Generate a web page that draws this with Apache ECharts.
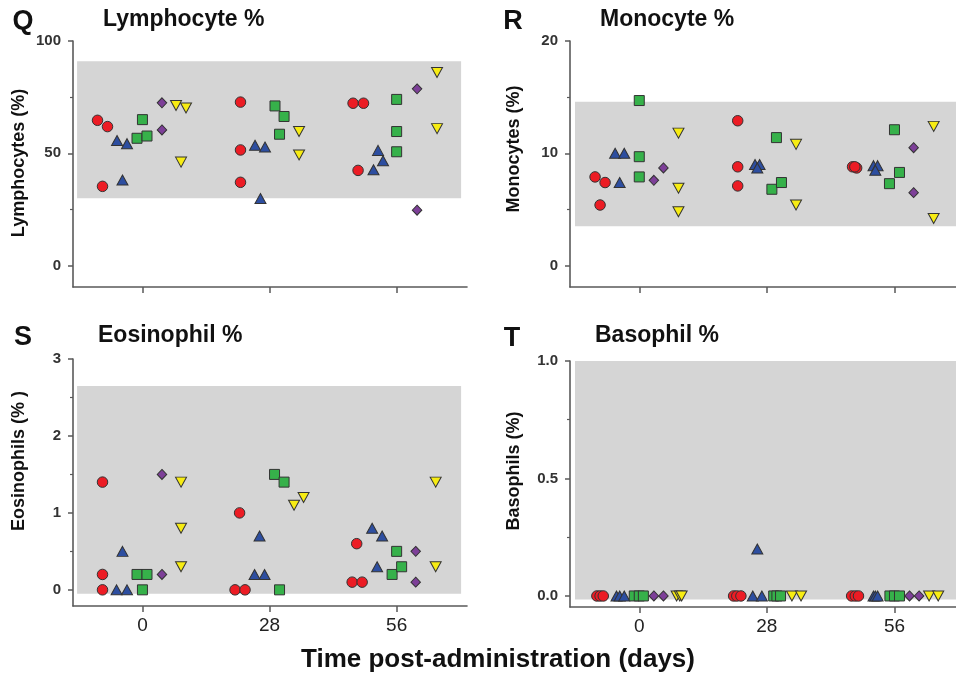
<!DOCTYPE html>
<html><head><meta charset="utf-8">
<script src="https://cdn.jsdelivr.net/npm/echarts@6/dist/echarts.min.js"></script>
<style>html,body{margin:0;padding:0;background:#fff}#c{width:956px;height:681px}</style>
</head><body><div id="c"></div>
<script>
// ---------- DATA ----------
const dayTicks = [0, 28, 56];
const groupNames = ['Group 1', 'Group 2', 'Group 3', 'Group 4', 'Group 5'];

// Lymphocyte % : [day (jittered), value]
const lymphRed    = [[-9.9,64.7],[-7.7,61.9],[-8.8,35.3],[21.6,72.8],[21.6,51.5],[21.6,37.1],[46.4,72.3],[48.7,72.3],[47.5,42.4]];
const lymphBlue   = [[-5.6,55.7],[-3.4,54.3],[-4.4,38.1],[24.8,53.6],[27.0,52.8],[26.0,29.9],[50.9,42.7],[51.9,51.3],[53.0,46.7]];
const lymphGreen  = [[0,65.0],[-1.2,56.7],[1.0,57.7],[29.2,71.1],[31.2,66.4],[30.2,58.5],[56,74.0],[56,59.7],[56,50.7]];
const lymphPurple = [[4.3,72.5],[4.3,60.4],[60.5,78.7],[60.5,24.7]];
const lymphYellow = [[7.4,71.3],[9.6,70.2],[8.5,46.1],[34.5,59.7],[34.5,49.3],[64.9,86.0],[64.9,61.0]];
const lymphRange  = [30, 91];
const lymphTicks  = [0, 50, 100];

// Monocyte %
const monoRed    = [[-9.7,7.9],[-7.5,7.4],[-8.6,5.4],[21.6,12.9],[21.6,8.8],[21.6,7.1],[46.8,8.8],[47.7,8.7],[47.3,8.8]];
const monoBlue   = [[-5.3,10.0],[-3.3,10.0],[-4.3,7.4],[25.4,9.0],[26.4,9.0],[25.9,8.7],[51.4,8.9],[52.3,8.9],[51.8,8.5]];
const monoGreen  = [[0,14.7],[0,9.7],[0,7.9],[30.1,11.4],[29.1,6.8],[31.2,7.4],[56,12.1],[54.9,7.3],[57.1,8.3]];
const monoPurple = [[3.2,7.6],[5.3,8.7],[60.2,10.5],[60.2,6.5]];
const monoYellow = [[8.6,11.8],[8.6,6.9],[8.6,4.8],[34.4,10.8],[34.4,5.4],[64.6,12.4],[64.6,4.2]];
const monoRange  = [3.5, 14.6];
const monoTicks  = [0, 10, 20];

// Eosinophil %
const eosRed    = [[-8.8,1.4],[-8.8,0.2],[-8.8,0],[21.4,1.0],[20.4,0],[22.6,0],[47.2,0.6],[46.2,0.1],[48.4,0.1]];
const eosBlue   = [[-4.4,0.5],[-5.7,0],[-3.4,0],[25.8,0.7],[24.7,0.2],[26.9,0.2],[50.6,0.8],[52.8,0.7],[51.7,0.3]];
const eosGreen  = [[-1.2,0.2],[1.0,0.2],[0,0],[29.1,1.5],[31.2,1.4],[30.2,0],[56,0.5],[55,0.2],[57.1,0.3]];
const eosPurple = [[4.3,1.5],[4.3,0.2],[60.2,0.5],[60.2,0.1]];
const eosYellow = [[8.5,1.4],[8.5,0.8],[8.5,0.3],[33.4,1.1],[35.5,1.2],[64.6,1.4],[64.6,0.3]];
const eosRange  = [-0.05, 2.65];
const eosTicks  = [0, 1, 2, 3];

// Basophil %
const basoRed    = [[-9.3,0],[-8.6,0],[-7.9,0],[20.7,0],[21.4,0],[22.3,0],[46.6,0],[47.4,0],[48.1,0]];
const basoBlue   = [[-5.0,0],[-4.3,0],[-3.3,0],[24.9,0],[25.9,0.2],[26.9,0],[51.4,0],[51.8,0],[52.3,0]];
const basoGreen  = [[-1.1,0],[0,0],[0.9,0],[29.5,0],[30.2,0],[31.0,0],[55,0],[56,0],[57.1,0]];
const basoPurple = [[3.2,0],[5.3,0],[59.3,0],[61.4,0]];
const basoYellow = [[8.2,0],[8.9,0],[9.3,0],[33.5,0],[35.5,0],[63.6,0],[65.6,0]];
const basoRange  = [-0.015, 1.0];
const basoTicks  = [0, 0.5, 1.0];

// ---------- STYLE ----------
const FONT = '"Liberation Sans", Arial, sans-serif';
const groupStyles = [
  {symbol:'circle',   size:10.5,    rotate:0,   color:'#ec1c24'},
  {symbol:'triangle', size:[11,10], rotate:0,   color:'#2d4ea0'},
  {symbol:'rect',     size:10,      rotate:0,   color:'#36b14a'},
  {symbol:'diamond',  size:[9.5,10],rotate:0,   color:'#7d3f98'},
  {symbol:'triangle', size:[11,10], rotate:180, color:'#f7ec13'}
];

const panels = [
  {letter:'Q', title:'Lymphocyte %', yName:'Lymphocytes (%)', groups:[lymphRed,lymphBlue,lymphGreen,lymphPurple,lymphYellow],
   range:lymphRange, ticks:lymphTicks, minor:[25,75], yMin:-9.5, yMax:100, xMin:-15.3, xMax:71.5, bandX:[-14.4,70.2],
   grid:{left:73, top:41, width:394, height:246}, xLabels:false, fmt:v=>String(v),
   letterPos:[23,22], titlePos:[103,20], yNamePos:[19,163]},
  {letter:'R', title:'Monocyte %', yName:'Monocytes (%)', groups:[monoRed,monoBlue,monoGreen,monoPurple,monoYellow],
   range:monoRange, ticks:monoTicks, minor:[5,15], yMin:-1.9, yMax:20, xMin:-15.2, xMax:69.5, bandX:[-14.1,69.5],
   grid:{left:570, top:41, width:386, height:246}, xLabels:false, fmt:v=>String(v),
   letterPos:[513,22], titlePos:[600,20], yNamePos:[514,149]},
  {letter:'S', title:'Eosinophil %', yName:'Eosinophils (% )', groups:[eosRed,eosBlue,eosGreen,eosPurple,eosYellow],
   range:eosRange, ticks:eosTicks, minor:[0.5,1.5,2.5], yMin:-0.21, yMax:3, xMin:-15.3, xMax:71.5, bandX:[-14.4,70.2],
   grid:{left:73, top:359, width:394, height:247}, xLabels:true, fmt:v=>String(v),
   letterPos:[23,338], titlePos:[98,336], yNamePos:[19,461]},
  {letter:'T', title:'Basophil %', yName:'Basophils (%)', groups:[basoRed,basoBlue,basoGreen,basoPurple,basoYellow],
   range:basoRange, ticks:basoTicks, minor:[0.25,0.75], yMin:-0.047, yMax:1, xMin:-15.2, xMax:69.5, bandX:[-14.1,69.5],
   grid:{left:570, top:361, width:386, height:246}, xLabels:true, fmt:v=>v.toFixed(1),
   letterPos:[512,339], titlePos:[595,336], yNamePos:[514,471]}
];

const grids = [], xAxes = [], yAxes = [], series = [], graphics = [];
const axisColor = '#5a5a5a';

panels.forEach((p, i) => {
  grids.push(Object.assign({containLabel:false}, p.grid));
  xAxes.push({
    type:'value', gridIndex:i, min:p.xMin, max:p.xMax, position:'bottom',
    axisLine:{show:true, onZero:false, lineStyle:{color:axisColor, width:1.6}},
    axisTick:{show:true, inside:false, length:6, customValues:dayTicks, lineStyle:{color:axisColor, width:1.5}},
    axisLabel:{show:p.xLabels, customValues:dayTicks, margin:10, fontFamily:FONT, fontSize:19, color:'#222'},
    splitLine:{show:false}
  });
  // major y axis
  yAxes.push({
    type:'value', gridIndex:i, min:p.yMin, max:p.yMax, position:'left',
    axisLine:{show:true, onZero:false, lineStyle:{color:axisColor, width:1.6}},
    axisTick:{show:true, inside:false, length:5, customValues:p.ticks, lineStyle:{color:axisColor, width:1.5}},
    axisLabel:{show:true, customValues:p.ticks, margin:12, fontFamily:FONT, fontSize:15, fontWeight:'bold', color:'#333', formatter:p.fmt},
    splitLine:{show:false}
  });
  // minor ticks y axis
  yAxes.push({
    type:'value', gridIndex:i, min:p.yMin, max:p.yMax, position:'left',
    axisLine:{show:false, onZero:false},
    axisTick:{show:true, inside:false, length:3, customValues:p.minor, lineStyle:{color:axisColor, width:1.2}},
    axisLabel:{show:false},
    splitLine:{show:false}
  });
  const yMainIdx = i * 2;
  // reference band
  series.push({
    type:'scatter', xAxisIndex:i, yAxisIndex:yMainIdx, data:[], z:1, silent:true,
    markArea:{silent:true, itemStyle:{color:'#d5d5d5'},
      data:[[{coord:[p.bandX[0], p.range[1]]},{coord:[p.bandX[1], p.range[0]]}]]}
  });
  p.groups.forEach((g, k) => {
    const st = groupStyles[k];
    series.push({
      type:'scatter', name:groupNames[k], xAxisIndex:i, yAxisIndex:yMainIdx, data:g, z:3 + k,
      symbol:st.symbol, symbolSize:st.size, symbolRotate:st.rotate,
      itemStyle:{color:st.color, borderColor:'#333', borderWidth:1, opacity:1},
      emphasis:{disabled:true}
    });
  });
  graphics.push({type:'text', x:p.letterPos[0], y:p.letterPos[1],
    style:{text:p.letter, font:'bold 27px ' + FONT, fill:'#111', align:'center', verticalAlign:'middle'}});
  graphics.push({type:'text', x:p.titlePos[0], y:p.titlePos[1],
    style:{text:p.title, font:'bold 23px ' + FONT, fill:'#111', align:'left', verticalAlign:'middle'}});
  graphics.push({type:'text', x:p.yNamePos[0], y:p.yNamePos[1], rotation:Math.PI/2,
    style:{text:p.yName, font:'bold 18px ' + FONT, fill:'#111', align:'center', verticalAlign:'middle'}});
});

graphics.push({type:'text', x:498, y:660,
  style:{text:'Time post-administration (days)', font:'bold 26px ' + FONT, fill:'#111', align:'center', verticalAlign:'middle'}});

const chart = echarts.init(document.getElementById('c'), null, {renderer:'canvas'});
chart.setOption({
  animation:false,
  backgroundColor:'#ffffff',
  grid:grids, xAxis:xAxes, yAxis:yAxes, series:series, graphic:graphics,
  tooltip:{show:false}
});
</script>
</body></html>
